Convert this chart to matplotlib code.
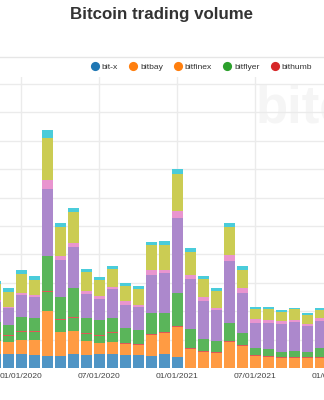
import matplotlib
matplotlib.use("Agg")
import matplotlib.pyplot as plt
from matplotlib.lines import Line2D
from matplotlib.colors import to_rgb

# Monthly volume per exchange (stacked, bottom to top)
months = ["2019-11", "2019-12",
          "2020-01", "2020-02", "2020-03", "2020-04", "2020-05", "2020-06",
          "2020-07", "2020-08", "2020-09", "2020-10", "2020-11", "2020-12",
          "2021-01", "2021-02", "2021-03", "2021-04", "2021-05", "2021-06",
          "2021-07", "2021-08", "2021-09", "2021-10", "2021-11", "2021-12"]

bitx     = [0.50, 0.48, 0.49, 0.46, 0.42, 0.42, 0.48, 0.46, 0.48, 0.49, 0.46, 0.45, 0.42,
            0.48, 0.39, 0.00, 0.00, 0.00, 0.00, 0.00, 0.00, 0.00, 0.00, 0.00, 0.00, 0.00]
bitfinex = [0.45, 0.44, 0.50, 0.53, 1.60, 0.85, 0.82, 0.49, 0.40, 0.43, 0.38, 0.37, 0.75,
            0.74, 1.04, 0.68, 0.56, 0.52, 0.91, 0.76, 0.44, 0.38, 0.36, 0.36, 0.34, 0.36]
bitflyer = [0.25, 0.20, 0.28, 0.29, 0.66, 0.43, 0.45, 0.26, 0.24, 0.32, 0.00, 0.00, 0.00,
            0.00, 0.00, 0.00, 0.00, 0.00, 0.00, 0.00, 0.00, 0.00, 0.00, 0.00, 0.00, 0.00]
bithumb  = [0.035] * 26
bitstamp = [0.40, 0.36, 0.49, 0.43, 1.23, 0.76, 1.04, 0.53, 0.52, 0.49, 0.54, 0.48, 0.73,
            0.68, 1.19, 0.67, 0.41, 0.41, 0.65, 0.43, 0.24, 0.24, 0.18, 0.19, 0.18, 0.30]
coinbase = [0.70, 0.59, 0.79, 0.76, 2.35, 1.30, 1.44, 0.82, 0.74, 1.01, 0.82, 0.81, 1.35,
            1.42, 2.61, 1.74, 1.37, 1.08, 2.18, 1.43, 0.88, 0.92, 0.97, 1.02, 0.92, 0.97]
gemini   = [0.07, 0.06, 0.06, 0.07, 0.31, 0.15, 0.15, 0.11, 0.12, 0.09, 0.11, 0.09, 0.15,
            0.11, 0.25, 0.15, 0.11, 0.08, 0.21, 0.15, 0.13, 0.12, 0.11, 0.09, 0.09, 0.08]
kraken   = [0.55, 0.51, 0.67, 0.54, 1.48, 1.01, 1.08, 0.66, 0.56, 0.61, 0.55, 0.56, 0.89,
            0.87, 1.32, 0.82, 0.64, 0.58, 0.99, 0.66, 0.37, 0.38, 0.33, 0.37, 0.31, 0.31]
others   = [0.12, 0.13, 0.13, 0.13, 0.29, 0.15, 0.15, 0.11, 0.12, 0.12, 0.10, 0.10, 0.12,
            0.12, 0.18, 0.12, 0.11, 0.11, 0.14, 0.11, 0.07, 0.06, 0.06, 0.06, 0.05, 0.06]

tick_months = ["2020-01", "2020-07", "2021-01", "2021-07", "2022-01"]

palette = {
    "bit-x": "#1f77b4", "bitbay": "#ff7f0e", "bitfinex": "#ff7f0e",
    "bitflyer": "#2ca02c", "bithumb": "#d62728", "bitstamp": "#2ca02c",
    "coinbase": "#9467bd", "gemini": "#e377c2", "kraken": "#bcbd22",
    "others": "#17becf",
}

stack = [("bit-x", bitx), ("bitfinex", bitfinex), ("bitflyer", bitflyer),
         ("bithumb", bithumb), ("bitstamp", bitstamp), ("coinbase", coinbase),
         ("gemini", gemini), ("kraken", kraken), ("others", others)]
legend_names = ["bit-x", "bitbay", "bitfinex", "bitflyer", "bithumb"]


def soften(c, a=0.78):
    return tuple(a * v + (1 - a) for v in to_rgb(c))


def month_index(m):
    y, mo = map(int, m.split("-"))
    y0, m0 = map(int, months[0].split("-"))
    return (y - y0) * 12 + (mo - m0)


W, H = 324, 400
fig = plt.figure(figsize=(W / 100, H / 100), dpi=100)
fig.patch.set_facecolor("white")

# plot area runs past both figure edges
x0_px, x1_px = -12.3, 341.3
y_top, y_base = 77, 368
ax = fig.add_axes([x0_px / W, 1 - y_base / H, (x1_px - x0_px) / W, (y_base - y_top) / H])
ax.patch.set_visible(False)

x = list(range(len(months)))
bottom = [0.0] * len(months)
for name, vals in stack:
    ax.bar(x, vals, bottom=bottom, width=0.89, color=soften(palette[name]),
           linewidth=0, zorder=2)
    bottom = [b + v for b, v in zip(bottom, vals)]

ax.set_xlim(-0.6, 26.6)
ax.set_ylim(0, (y_base - y_top) / 28.4)
ax.set_yticks(range(1, 11))
ax.set_yticklabels([])
ax.set_xticks([month_index(m) for m in tick_months])
ax.set_xticklabels([f"{m[5:]}/01/{m[:4]}" for m in tick_months],
                   fontsize=6.1, family="Liberation Sans", color="#444444")
ax.tick_params(length=0, pad=3.6)
ax.grid(True, color="#ebebeb", linewidth=1, zorder=0)
ax.set_axisbelow(True)
for s in ax.spines.values():
    s.set_visible(False)

# watermark
fig.text(256 / W, 1 - 123 / H, "bitcoinity", fontsize=38, fontweight="bold",
         family="Liberation Sans", color="#f5f5f5", ha="left", va="baseline", zorder=-1)

fig.text(0.5, 1 - 15 / H, "Bitcoin trading volume", ha="center", va="center",
         fontsize=12.2, fontweight="bold", family="Liberation Sans", color="#333333")

fig.add_artist(Line2D([0, 1], [1 - 57 / H] * 2, color="#e6e6e6", linewidth=1,
                      transform=fig.transFigure))

handles = [Line2D([], [], linestyle="none", marker="o", markersize=6.6,
                  markerfacecolor=palette[n], markeredgewidth=0) for n in legend_names]
leg = ax.legend(handles, legend_names, loc="center right",
                bbox_to_anchor=(312 / W, 1 - 67 / H), bbox_transform=fig.transFigure,
                ncol=5, frameon=False, handlelength=0.8, handletextpad=0.4,
                columnspacing=1.4, borderpad=0, borderaxespad=0,
                prop={"family": "Liberation Sans", "size": 6.1})
for t in leg.get_texts():
    t.set_color("#333333")

fig.savefig("out.png", dpi=100)
